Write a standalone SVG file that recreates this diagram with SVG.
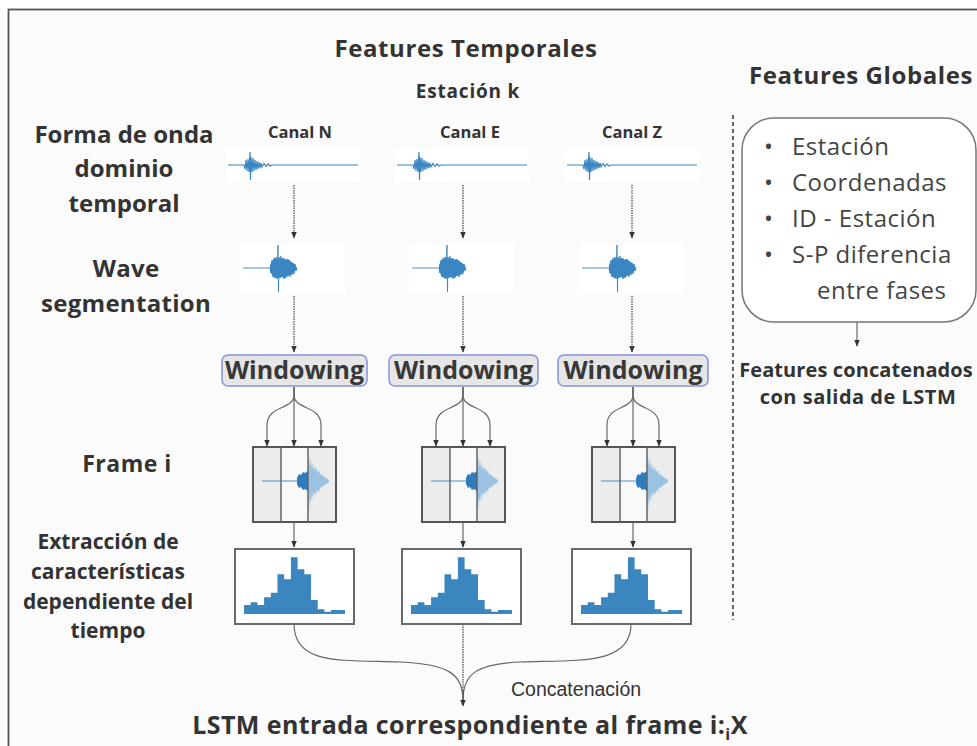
<svg xmlns="http://www.w3.org/2000/svg" xmlns:xlink="http://www.w3.org/1999/xlink" width="977" height="746" viewBox="0 0 977 746">
<defs>
<style>
.b{font-family:"Open Sans","Noto Sans",sans-serif;font-weight:700;fill:#333;text-anchor:middle}
.r{font-family:"Open Sans","Noto Sans",sans-serif;font-weight:400;fill:#444;font-size:24px;letter-spacing:0.5px}
.c{font-family:"Open Sans","Noto Sans",sans-serif;font-weight:700;fill:#333;text-anchor:middle;font-size:16.5px}
.win{fill:#e6e6e6;stroke:#8a90dc;stroke-width:1.5}
.wt{font-family:"Open Sans","Noto Sans",sans-serif;font-weight:700;fill:#383838;font-size:25px;text-anchor:middle}
.dot{fill:none;stroke:#444;stroke-width:1.2;stroke-dasharray:1.5 1}
.cv{fill:none;stroke:#666;stroke-width:1.2}
.wave{fill:none;stroke:#3a86c3;stroke-width:1.2}
.bar{fill:#3c86bf}
.hbox{fill:#fff;stroke:#6a6a6a;stroke-width:2}
</style>
<marker id="ah" viewBox="0 0 10 10" refX="9" refY="5" markerWidth="7" markerHeight="7" orient="auto" markerUnits="userSpaceOnUse">
<path d="M0,1 L10,5 L0,9 z" fill="#333"/>
</marker>
<g id="w1">
<rect x="-24" y="-17" width="134" height="34" fill="#fff"/>
<path class="wave" d="M-22,0 H-6 L-5,4 L-4,-5 L-3,6 L-2,-6 L-1,7 L0,-13 L0.5,15 L1,-8 L2,7 L3,-7 L4,6 L5,-5 L6,5 L7,-4 L8,4 L9,-3 L10,3 L11,-2 L12,2 L14,-1.5 L16,1.5 L18,-1 L20,1 L22,0 H108"/>
</g>
<g id="w2">
<rect x="-38" y="-23" width="105" height="48" fill="#fff"/>
<path class="wave" style="stroke-width:0.9" d="M-35,0 H-8 L-7,5 L-6,-8 L-5,9 L-4,-10 L-3,10 L-2,-11 L-1,11 L0,-23 L0.5,24 L1,-11 L2,10 L3,-12 L4,9 L5,-10 L6,11 L7,-8 L8,10 L9,-9 L10,7 L11,-8 L12,9 L13,-6 L14,7 L15,-5 L16,6 L17,-4 L18,3 L19,0"/>
<path fill="#3a86c3" d="M-8,-3 L-6,-7 L-4,-9 L-2,-10 L0,-9 L2,-10 L4,-9 L6,-10 L8,-8 L10,-9 L12,-7 L14,-6 L16,-4 L18,-2 L19,0 L18,2 L16,4 L14,6 L12,7 L10,8 L8,9 L6,10 L4,9 L2,10 L0,9 L-2,10 L-4,9 L-6,7 L-8,3 z"/>
</g>
<g id="fr">
<rect x="0" y="0" width="28" height="75" fill="#ececec"/>
<rect x="28" y="0" width="27" height="75" fill="#f9f9f9"/>
<rect x="55" y="0" width="28" height="75" fill="#ececec"/>
<path d="M9,34 H44" stroke="#4a90c8" stroke-width="1"/>
<path fill="#2f7dbd" d="M44,31 L46,27 L48,28 L50,25 L52,26 L55,24 L55,44 L52,42 L50,43 L48,40 L46,41 L44,37 z"/>
<path fill="#9cc2e2" d="M55,22 L56,8 L57,20 L58,12 L59,22 L60,16 L61,23 L63,20 L64,25 L66,23 L67,28 L69,27 L70,29 L73,31 L76,33 L76,35 L73,37 L70,39 L69,41 L67,40 L66,45 L64,43 L63,48 L61,45 L60,52 L59,46 L58,56 L57,50 L56,64 L55,46 z"/>
<rect x="0" y="0" width="83" height="75" fill="none" stroke="#555" stroke-width="2"/>
<path d="M28,0 V75 M55,0 V75" stroke="#666" stroke-width="1.5"/>
</g>
<g id="hist">
<rect class="hbox" x="0" y="0" width="119" height="75"/>
<path class="bar" d="M9,65 V56 H15.7 V53.3 H22.4 V56 H29.1 V48.3 H35.8 V43.7 H42.5 V25.3 H49.2 V30.3 H55.9 V8.3 H62.6 V20.3 H69.3 V25.3 H76 V51 H82.7 V60.3 H89.4 V62.7 H96.1 V61 H110 V65 z"/>
</g>
</defs>
<rect x="0" y="0" width="977" height="746" fill="#fff"/>
<rect x="8.5" y="9.5" width="980" height="750" fill="#fbfbfb" stroke="#555" stroke-width="1.8"/>

<g id="titles">
<text class="b" x="466" y="57" font-size="24" letter-spacing="0.6">Features Temporales</text>
<text class="b" x="468" y="98" font-size="19" letter-spacing="0.8">Estación k</text>
<text class="b" x="861" y="84" font-size="24" letter-spacing="0.6">Features Globales</text>
</g>

<g id="row-labels">
<text class="b" font-size="24"><tspan x="124" y="143">Forma de onda</tspan><tspan x="124" y="177">dominio</tspan><tspan x="124" y="212">temporal</tspan></text>
<text class="b" font-size="24" letter-spacing="0.3"><tspan x="126" y="277">Wave</tspan><tspan x="126" y="312">segmentation</tspan></text>
<text class="b" x="127" y="472" font-size="23" letter-spacing="0.5">Frame i</text>
<text class="b" font-size="21"><tspan x="108" y="549">Extracción de</tspan><tspan x="108" y="579">características</tspan><tspan x="108" y="609">dependiente del</tspan><tspan x="108" y="638">tiempo</tspan></text>
</g>

<g id="channel-labels">
<text class="c" x="300" y="138">Canal N</text>
<text class="c" x="470" y="138">Canal E</text>
<text class="c" x="632" y="138">Canal Z</text>
</g>

<g id="connectors">
<path class="dot" d="M294,185 V238" marker-end="url(#ah)"/>
<path class="dot" d="M463,185 V238" marker-end="url(#ah)"/>
<path class="dot" d="M632,185 V238" marker-end="url(#ah)"/>
<path class="dot" d="M294,296 V352" marker-end="url(#ah)"/>
<path class="dot" d="M463,296 V352" marker-end="url(#ah)"/>
<path class="dot" d="M632,296 V352" marker-end="url(#ah)"/>
<g>
<path class="cv" d="M294,387 V395 C294,410 267,405 267,425 V446" marker-end="url(#ah)"/>
<path class="cv" d="M294,387 V446" marker-end="url(#ah)"/>
<path class="cv" d="M294,387 V395 C294,410 321,405 321,425 V446" marker-end="url(#ah)"/>
</g>
<g>
<path class="cv" d="M463,387 V395 C463,410 436,405 436,425 V446" marker-end="url(#ah)"/>
<path class="cv" d="M463,387 V446" marker-end="url(#ah)"/>
<path class="cv" d="M463,387 V395 C463,410 490,405 490,425 V446" marker-end="url(#ah)"/>
</g>
<g>
<path class="cv" d="M633,387 V395 C633,410 607,405 607,425 V446" marker-end="url(#ah)"/>
<path class="cv" d="M633,387 V446" marker-end="url(#ah)"/>
<path class="cv" d="M633,387 V395 C633,410 659,405 659,425 V446" marker-end="url(#ah)"/>
</g>
<path class="cv" d="M294,523 V547" marker-end="url(#ah)"/>
<path class="cv" d="M463,523 V547" marker-end="url(#ah)"/>
<path class="cv" d="M633,523 V547" marker-end="url(#ah)"/>
<path class="cv" d="M294,624 C294,665 340,660 400,662 C450,664 463,675 463,700"/>
<path class="cv" d="M631,624 C631,665 580,660 520,662 C475,664 463,675 463,700"/>
<path class="dot" d="M463,624 V706" marker-end="url(#ah)"/>
<path class="cv" d="M857,322 V346" stroke="#333" marker-end="url(#ah)"/>
<path d="M733,115 V620" stroke="#333" stroke-width="1.5" stroke-dasharray="4 3"/>
</g>

<g id="col-N">
<use xlink:href="#w1" x="250" y="165"/>
<use xlink:href="#w2" x="278" y="268"/>
<g id="win-N"><rect class="win" x="222" y="355" width="145" height="31" rx="6"/><text class="wt" x="294.5" y="379">Windowing</text></g>
<use xlink:href="#fr" x="253" y="447"/>
<use xlink:href="#hist" x="235" y="549"/>
</g>
<g id="col-E">
<use xlink:href="#w1" x="419" y="165"/>
<use xlink:href="#w2" x="447" y="268"/>
<g id="win-E"><rect class="win" x="389" y="355" width="149" height="31" rx="6"/><text class="wt" x="463.5" y="379">Windowing</text></g>
<use xlink:href="#fr" x="422" y="447"/>
<use xlink:href="#hist" x="402" y="549"/>
</g>
<g id="col-Z">
<use xlink:href="#w1" x="589" y="165"/>
<use xlink:href="#w2" x="617" y="268"/>
<g id="win-Z"><rect class="win" x="558" y="355" width="150" height="31" rx="6"/><text class="wt" x="633" y="379">Windowing</text></g>
<use xlink:href="#fr" x="592" y="447"/>
<use xlink:href="#hist" x="572" y="549"/>
</g>

<g id="global-box">
<rect x="742" y="118" width="234" height="204" rx="32" fill="#fff" stroke="#777" stroke-width="1.5"/>
<text class="r"><tspan x="764" y="155">•</tspan><tspan x="792" y="155">Estación</tspan></text>
<text class="r"><tspan x="764" y="191">•</tspan><tspan x="792" y="191">Coordenadas</tspan></text>
<text class="r"><tspan x="764" y="227">•</tspan><tspan x="792" y="227">ID - Estación</tspan></text>
<text class="r"><tspan x="764" y="263">•</tspan><tspan x="792" y="263">S-P diferencia</tspan></text>
<text class="r" x="817" y="299">entre fases</text>
</g>
<g id="global-out">
<text class="b" font-size="20"><tspan x="856" y="377" letter-spacing="0.1">Features concatenados</tspan><tspan x="858" y="404" letter-spacing="0.5">con salida de LSTM</tspan></text>
</g>

<g id="output">
<text x="511" y="696" font-family="Liberation Sans,Arial,sans-serif" font-size="19.5" fill="#333">Concatenación</text>
<text class="b" x="470" y="734" font-size="25" letter-spacing="0.4">LSTM entrada correspondiente al frame i:<tspan font-size="16" dy="6">i</tspan><tspan dy="-6">X</tspan></text>
</g>
</svg>
